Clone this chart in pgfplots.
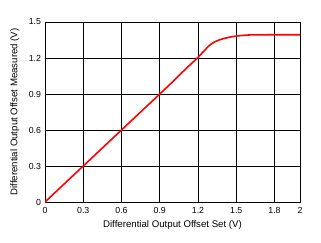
\documentclass[border=0pt]{standalone}
\usepackage{pgfplots}
\pgfplotsset{compat=1.18}
\usepackage{fontspec}
\setmainfont{Liberation Sans}
\begin{document}
\begin{tikzpicture}[x=1bp,y=1bp]
\useasboundingbox (-45,-41) rectangle (276,202);
\begin{axis}[
  at={(0,0)}, anchor=south west,
  scale only axis, width=255bp, height=180bp,
  xmin=0, xmax=2, ymin=0, ymax=1.5,
  xtick={0,0.3,0.6,0.9,1.2,1.5,1.8,2},
  xticklabels={0,0.3,0.6,0.9,1.2,1.5,1.8,2},
  ytick={0,0.3,0.6,0.9,1.2,1.5},
  yticklabels={0,0.3,0.6,0.9,1.2,1.5},
  grid=major,
  major grid style={black, line width=0.9pt},
  axis line style={black, line width=0.9pt},
  major tick length=0pt,
  tick label style={font=\fontsize{8.8}{10}\selectfont},
  xticklabel style={yshift=-2bp},
  yticklabel style={xshift=-0.5bp},
  label style={font=\fontsize{9.7}{11}\selectfont},
  xlabel={Differential Output Offset Set (V)},
  ylabel={Differential Output  Offset Measured (V)},
  xlabel style={at={(axis description cs:0.5,0)}, anchor=center, yshift=-23bp},
  ylabel style={at={(axis description cs:0,0.5)}, anchor=center, rotate=0, yshift=30bp},
]
\addplot[red, line width=1.6pt] coordinates {
(0,0) (0.05,0.05) (0.1,0.1) (0.2,0.2) (0.3,0.3) (0.4,0.4) (0.5,0.5) (0.6,0.6)
(0.7,0.7) (0.8,0.8) (0.9,0.9) (1.0,1.0) (1.1,1.105) (1.2,1.205)
(1.25,1.262) (1.28,1.295) (1.3,1.315) (1.33,1.334) (1.36,1.348) (1.4,1.362) (1.45,1.374)
(1.5,1.383) (1.55,1.388) (1.6,1.392) (1.7,1.393) (1.8,1.394) (2,1.394)
};
\end{axis}
\end{tikzpicture}
\end{document}
